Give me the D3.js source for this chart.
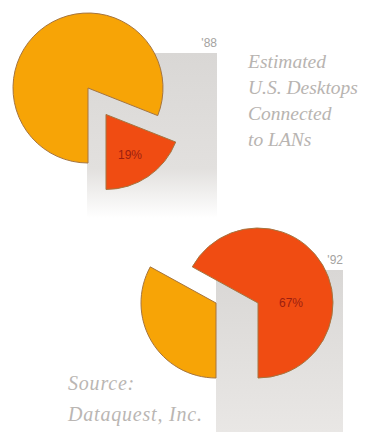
<!DOCTYPE html>
<html>
<head>
<meta charset="utf-8">
<script src="https://cdn.jsdelivr.net/npm/d3@7"></script>
<style>
  body { margin: 0; background: #fff; }
  svg { display: block; }
</style>
</head>
<body>
<svg id="chart" width="365" height="432"></svg>
<script>
// data
var years = ["'88", "'92"];
var connected = [19, 67];      // % of desktops on LANs
var notConnected = [81, 33];
var titleLines = ["Estimated", "U.S. Desktops", "Connected", "to LANs"];
var sourceLines = ["Source:", "Dataquest, Inc."];

var svg = d3.select('#chart');
var width = 365, height = 432;

var orange = "#f7a406", red = "#f04c12", edge = "#a57540";

// layout for the two pies
var layout = [
    {cx: 88, cy: 88, r: 75, panel: {x: 87, y: 53, w: 130, h: 165, fade: true},
     shift: function(d, i) { // pull the small slice out along its bisector
        if (i === 0) return [0, 0];
        var a = (d.startAngle + d.endAngle) / 2;
        return [Math.sin(a) * 32, -Math.cos(a) * 32];
     },
     label: [42, 67]},
    {cx: 237, cy: 303, r: 75, panel: {x: 216, y: 270, w: 127, h: 162, fade: false},
     shift: function(d, i) { return i === 0 ? [-21, 0] : [21, 0]; },
     label: [54, 0]}
];

var defs = svg.append("defs");
var g1 = defs.append("linearGradient").attr("id", "fade88")
    .attr("x1", 0).attr("y1", 0).attr("x2", 0).attr("y2", 1);
g1.append("stop").attr("offset", "0%").attr("stop-color", "#d9d7d5");
g1.append("stop").attr("offset", "70%").attr("stop-color", "#e2e0de");
g1.append("stop").attr("offset", "100%").attr("stop-color", "#ffffff");
var g2 = defs.append("linearGradient").attr("id", "fade92")
    .attr("x1", 0).attr("y1", 0).attr("x2", 0).attr("y2", 1);
g2.append("stop").attr("offset", "0%").attr("stop-color", "#d9d7d5");
g2.append("stop").attr("offset", "100%").attr("stop-color", "#e9e7e5");

var pie = d3.pie().sort(null).startAngle(Math.PI).endAngle(3 * Math.PI);

years.forEach(function(year, k) {
    var L = layout[k];
    var p = L.panel;

    // gray panel behind each pie
    svg.append("rect")
        .attr("x", p.x).attr("y", p.y)
        .attr("width", p.w).attr("height", p.h)
        .attr("fill", p.fade ? "url(#fade88)" : "url(#fade92)");

    svg.append("text")
        .attr("x", p.x + p.w).attr("y", p.y - 6)
        .attr("text-anchor", "end")
        .attr("font-family", "'Liberation Sans Narrow', 'Liberation Sans', sans-serif")
        .attr("font-size", 12)
        .attr("fill", "#a5a3a1")
        .text(year);

    var arc = d3.arc().innerRadius(0).outerRadius(L.r);
    var slices = pie([notConnected[k], connected[k]]);

    var gp = svg.append("g").attr("transform", "translate(" + [L.cx, L.cy] + ")");
    gp.selectAll("path")
        .data(slices)
        .enter().append("path")
        .attr("transform", function(d, i) { return "translate(" + L.shift(d, i) + ")"; })
        .attr("d", arc)
        .attr("fill", function(d, i) { return i === 0 ? orange : red; })
        .attr("stroke", edge)
        .attr("stroke-width", 1);

    gp.append("text")
        .attr("x", L.label[0]).attr("y", L.label[1])
        .attr("dy", "0.35em")
        .attr("text-anchor", "middle")
        .attr("font-family", "'Liberation Sans Narrow', 'Liberation Sans', sans-serif")
        .attr("font-size", 12)
        .attr("fill", "#9c1f10")
        .text(connected[k] + "%");
});

// title
svg.append("g").selectAll("text")
    .data(titleLines)
    .enter().append("text")
    .attr("x", 248)
    .attr("y", function(d, i) { return 68 + i * 26; })
    .attr("font-family", "'Liberation Serif', serif")
    .attr("font-style", "italic")
    .attr("font-size", 19.5)
    .attr("fill", "#b8b4b1")
    .text(function(d) { return d; });

// source
svg.append("g").selectAll("text")
    .data(sourceLines)
    .enter().append("text")
    .attr("x", 68)
    .attr("y", function(d, i) { return 390 + i * 31; })
    .attr("font-family", "'Liberation Serif', serif")
    .attr("font-style", "italic")
    .attr("font-size", 20)
    .attr("letter-spacing", 0.8)
    .attr("fill", "#bab6b3")
    .text(function(d) { return d; });
</script>
</body>
</html>
